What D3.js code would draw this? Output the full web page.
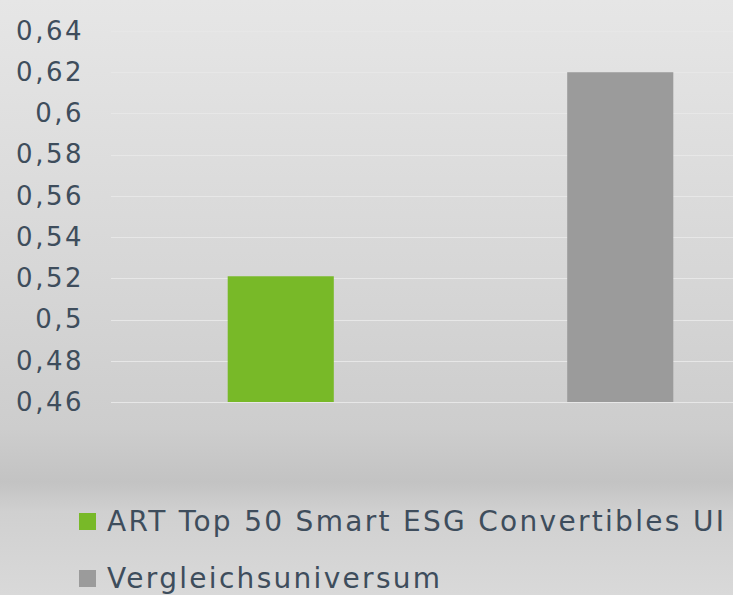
<!DOCTYPE html>
<html>
<head>
<meta charset="utf-8">
<script src="https://cdn.jsdelivr.net/npm/d3@7"></script>
<style>
  html, body { margin: 0; padding: 0; overflow: hidden; }
  svg { display: block; }
  text { font-family: "DejaVu Sans", "Noto Sans", sans-serif; fill: #3e4d5c; }
</style>
</head>
<body>
<svg id="chart" width="733" height="595"></svg>
<script>
// data
var categories = ['ART Top 50 Smart ESG Convertibles UI', 'Vergleichsuniversum'];
var values = [0.521, 0.62];
var colors = ['#78b928', '#9b9b9b'];
var yTicks = [0.46, 0.48, 0.5, 0.52, 0.54, 0.56, 0.58, 0.6, 0.62, 0.64];

var width = 733, height = 595;
var svg = d3.select('#chart');

// background gradient
var defs = svg.append('defs');
var grad = defs.append('linearGradient').attr('id', 'bg').attr('x1', 0).attr('y1', 0).attr('x2', 0).attr('y2', 1);
[[0, '#e6e6e6'], [0.45, '#d7d7d7'], [0.72, '#cdcdcd'], [0.81, '#c3c3c3'], [0.86, '#d0d0d0'], [1, '#d9d9d9']]
  .forEach(function(s){ grad.append('stop').attr('offset', s[0]).attr('stop-color', s[1]); });
svg.append('rect').attr('width', width).attr('height', height).attr('fill', 'url(#bg)');

var yScale = d3.scaleLinear().domain([0.46, 0.64]).range([402, 31]);
var xScale = d3.scaleBand().domain(categories).range([111, 790])
  .paddingInner(0.6875).paddingOuter(0.34375);

var fmt = function(d){ return d3.format('')(+d.toFixed(2)).replace('.', ','); };

// gridlines
svg.append('g').selectAll('line').data(yTicks).enter().append('line')
  .attr('x1', 111).attr('x2', width)
  .attr('y1', function(d){ return Math.round(yScale(d)) + 0.5; })
  .attr('y2', function(d){ return Math.round(yScale(d)) + 0.5; })
  .attr('stroke', '#e7e7e7').attr('stroke-width', 1.2);

// y axis labels
var yAxis = svg.append('g').attr('transform', 'translate(84,0)')
  .call(d3.axisLeft(yScale).tickValues(yTicks).tickFormat(fmt).tickSize(0).tickPadding(0));
yAxis.select('.domain').remove();
yAxis.selectAll('text').attr('font-size', 26).attr('fill', '#3e4d5c')
  .attr('letter-spacing', 2.5)
  .style('font-family', '"DejaVu Sans", "Noto Sans", sans-serif');

// bars
svg.append('g').selectAll('rect').data(categories).enter().append('rect')
  .attr('x', function(d){ return xScale(d); })
  .attr('width', xScale.bandwidth())
  .attr('y', function(d, i){ return yScale(values[i]); })
  .attr('height', function(d, i){ return yScale(0.46) - yScale(values[i]); })
  .attr('fill', function(d, i){ return colors[i]; });

// legend
var legend = svg.append('g').selectAll('g').data(categories).enter().append('g')
  .attr('transform', function(d, i){ return 'translate(79,' + (531 + i * 57) + ')'; });
legend.append('rect').attr('x', 0).attr('y', -18).attr('width', 17).attr('height', 17)
  .attr('fill', function(d, i){ return colors[i]; });
legend.append('text').attr('x', 28).attr('y', 0).attr('font-size', 28)
  .attr('letter-spacing', 2.3)
  .text(function(d){ return d; });
</script>
</body>
</html>
